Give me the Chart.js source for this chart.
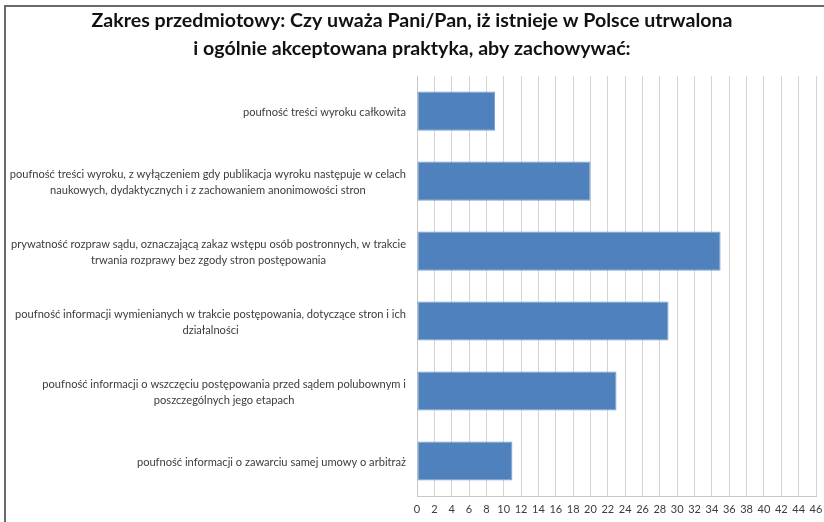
<!DOCTYPE html>
<html>
<head>
<meta charset="utf-8">
<script src="https://cdn.jsdelivr.net/npm/chart.js@4"></script>
<style>
  html, body { margin: 0; padding: 0; background: #fff; overflow: hidden; }
  #wrap { position: relative; width: 824px; height: 522px; }
  #frame { position: absolute; left: 4px; top: 5px; width: 840px; height: 540px; border-left: 2px solid #6a6a6a; border-top: 2px solid #6a6a6a; }
  canvas { position: absolute; left: 0; top: 0; }
</style>
</head>
<body>
<div id="wrap">
  <div id="frame"></div>
  <canvas id="c" width="824" height="522"></canvas>
</div>
<script>
const titleLines = [
  'Zakres przedmiotowy: Czy uważa Pani/Pan, iż istnieje w Polsce utrwalona',
  'i ogólnie akceptowana praktyka, aby zachowywać:'
];
const categories = [
  ['poufność treści wyroku całkowita'],
  ['poufność treści wyroku, z wyłączeniem gdy publikacja wyroku następuje w celach', 'naukowych, dydaktycznych i z zachowaniem anonimowości stron'],
  ['prywatność rozpraw sądu, oznaczającą zakaz wstępu osób postronnych, w trakcie', 'trwania rozprawy bez zgody stron postępowania'],
  ['poufność informacji wymienianych w trakcie postępowania, dotyczące stron i ich', 'działalności'],
  ['poufność informacji o wszczęciu postępowania przed sądem polubownym i', 'poszczególnych jego etapach'],
  ['poufność informacji o zawarciu samej umowy o arbitraż']
];
const values = [9, 20, 35, 29, 23, 11];
const xMin = 0;
const xMax = 46;
const xStep = 2;

const fam = 'Lato, "Open Sans", sans-serif';
const labelFont = '11.1px ' + fam;
const labelColor = '#3c3c3c';

const categoryLabelPlugin = {
  id: 'categoryLabels',
  afterDraw(chart) {
    const ctx = chart.ctx;
    const ys = chart.scales.y;
    const rightEdge = ys.right - 11;
    const lh = 16;
    ctx.save();
    ctx.font = labelFont;
    ctx.fillStyle = labelColor;
    ctx.textAlign = 'center';
    ctx.textBaseline = 'middle';
    chart.data.labels.forEach((lines, i) => {
      const yc = ys.getPixelForValue(i) + 1;
      const w = Math.max(...lines.map(l => ctx.measureText(l).width));
      const cx = rightEdge - w / 2;
      const y0 = yc - (lines.length - 1) * lh / 2;
      lines.forEach((l, j) => ctx.fillText(l, cx, y0 + j * lh));
    });
    ctx.restore();
  }
};

new Chart(document.getElementById('c'), {
  type: 'bar',
  data: {
    labels: categories,
    datasets: [{
      data: values,
      backgroundColor: '#4f81bd',
      borderColor: '#7a9fd0',
      borderWidth: 1,
      borderSkipped: false,
      barPercentage: 0.56,
      categoryPercentage: 1
    }]
  },
  options: {
    indexAxis: 'y',
    responsive: false,
    animation: false,
    devicePixelRatio: 1,
    layout: { padding: { left: 0, right: 0, top: 0, bottom: 6 } },
    plugins: {
      legend: { display: false },
      tooltip: { enabled: false },
      title: {
        display: true,
        text: titleLines,
        color: '#111',
        font: { family: fam, size: 19.6, weight: 'bold', lineHeight: 1.43 },
        padding: { top: 7, bottom: 13 }
      }
    },
    scales: {
      x: {
        min: xMin,
        max: xMax,
        ticks: {
          stepSize: xStep,
          color: labelColor,
          padding: 7,
          autoSkip: false,
          maxRotation: 0,
          minRotation: 0,
          font: { family: fam, size: 11 }
        },
        grid: { color: '#d4d4d4', drawTicks: false, lineWidth: 1 },
        border: { display: true, color: '#c8c8c8' },
        afterFit(scale) {
          scale.height = 20;
          scale.paddingLeft = 0;
          scale.paddingRight = 8;
        }
      },
      y: {
        ticks: { display: false },
        grid: { display: false },
        border: { display: true, color: '#c8c8c8' },
        afterFit(scale) { scale.width = 417; }
      }
    }
  },
  plugins: [categoryLabelPlugin]
});
</script>
</body>
</html>
